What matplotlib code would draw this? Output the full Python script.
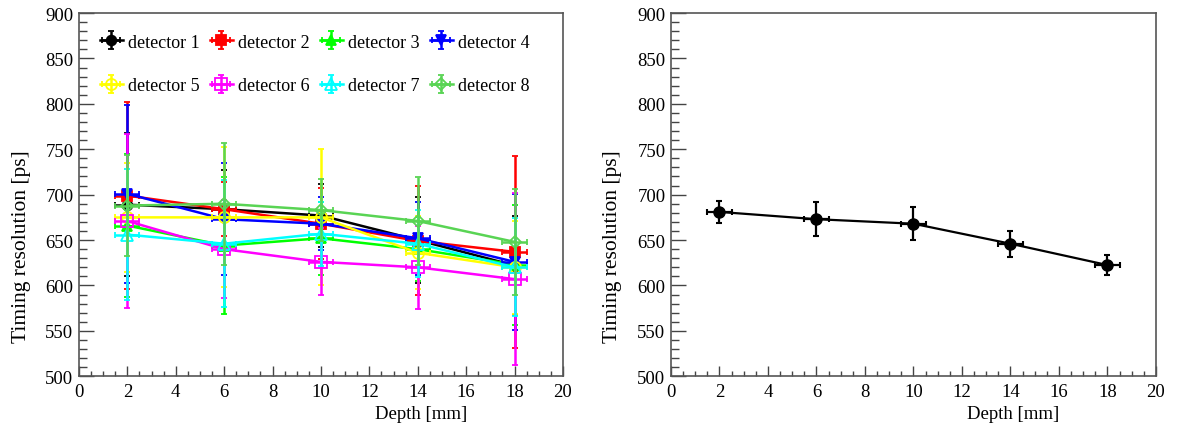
import matplotlib
matplotlib.use("Agg")
import matplotlib.pyplot as plt
from matplotlib.ticker import MultipleLocator

plt.rcParams['font.family'] = ['Liberation Serif', 'DejaVu Serif']

depth = [2, 6, 10, 14, 18]
depth_err = [0.5, 0.5, 0.5, 0.5, 0.5]

det_labels = ["detector 1", "detector 2", "detector 3", "detector 4",
              "detector 5", "detector 6", "detector 7", "detector 8"]

d1 = [689, 684, 677, 650, 622]
d2 = [699, 684, 668, 649, 637]
d3 = [666, 644, 652, 640, 623]
d4 = [701, 673, 668, 652, 626]
d5 = [675, 675, 675, 636, 620]
d6 = [671, 640, 626, 620, 607]
d7 = [656, 646, 657, 646, 620]
d8 = [688, 690, 683, 671, 648]

e1 = [79, 43, 35, 47, 55]
e2 = [103, 30, 39, 60, 106]
e3 = [79, 75, 40, 35, 66]
e4 = [98, 62, 29, 40, 75]
e5 = [60, 77, 75, 40, 51]
e6 = [96, 54, 37, 46, 95]
e7 = [72, 70, 35, 37, 54]
e8 = [56, 67, 34, 48, 58]

avg = [681, 673, 668, 646, 622.5]
avg_err = [12.5, 18.5, 18, 14.5, 11.5]

values = [d1, d2, d3, d4, d5, d6, d7, d8]
errors = [e1, e2, e3, e4, e5, e6, e7, e8]
colors = ['#000000', '#ff0000', '#00ff00', '#0000ff',
          '#ffff00', '#ff00ff', '#00ffff', '#59d454']
markers = ['o', 's', '^', 'v', 'o', 's', '^', 'D']
filled = [True, True, True, True, False, False, False, False]
msizes = [7, 7, 7, 7, 8, 8, 8, 6]

fig = plt.figure(figsize=(11.8, 4.35), dpi=100)
ax1 = fig.add_axes([0.0669, 0.1326, 0.4102, 0.8352])
ax2 = fig.add_axes([0.5686, 0.1326, 0.4110, 0.8352])


def style_axes(ax):
    ax.set_xlim(0, 20)
    ax.set_ylim(500, 900)
    ax.xaxis.set_major_locator(MultipleLocator(2))
    ax.xaxis.set_minor_locator(MultipleLocator(0.5))
    ax.yaxis.set_major_locator(MultipleLocator(50))
    ax.yaxis.set_minor_locator(MultipleLocator(10))
    ax.tick_params(axis='y', which='major', direction='in', length=11, width=1.0,
                   labelsize=13.5, pad=4, color='#444444')
    ax.tick_params(axis='y', which='minor', direction='in', length=5.5, width=1.0,
                   color='#444444')
    ax.tick_params(axis='x', which='major', direction='in', length=7.5, width=1.0,
                   labelsize=13.5, pad=5, color='#444444')
    ax.tick_params(axis='x', which='minor', direction='in', length=3.8, width=1.0,
                   color='#444444')
    for s in ax.spines.values():
        s.set_color('#555555')
        s.set_linewidth(1.2)
    ax.set_xlabel("Depth [mm]", fontsize=13.5)
    ax.set_ylabel("Timing resolution [ps]", fontsize=15.5)
    ax.xaxis.set_label_coords(0.706, -0.08)
    ax.yaxis.set_label_coords(-0.10, 0.36)


style_axes(ax1)
style_axes(ax2)

handles = []
for i in range(8):
    c = colors[i]
    h = ax1.errorbar(depth, values[i], yerr=errors[i], xerr=depth_err,
                     color=c, ecolor=c, marker=markers[i], ms=msizes[i],
                     mfc=c if filled[i] else 'none', mec=c, mew=1.3,
                     lw=1.8, elinewidth=1.8, capsize=2, capthick=1.5,
                     label=det_labels[i], zorder=2 + i)
    handles.append(h)

# legend filled column-wise -> reorder so rows read detector 1..4, 5..8
order = [0, 4, 1, 5, 2, 6, 3, 7]
leg = ax1.legend(handles=[handles[k] for k in order],
                 labels=[det_labels[k] for k in order], ncol=4,
                 loc='upper left', bbox_to_anchor=(0.0, 1.0), frameon=False,
                 fontsize=13, handlelength=1.3, handletextpad=0.25,
                 columnspacing=0.57, labelspacing=1.45, borderaxespad=0.4,
                 borderpad=0.75)

ax2.errorbar(depth, avg, yerr=avg_err, xerr=depth_err, color='black',
             marker='o', ms=8, lw=1.6, elinewidth=1.6, capsize=2, capthick=1.5)

fig.savefig("out.png", dpi=100)
